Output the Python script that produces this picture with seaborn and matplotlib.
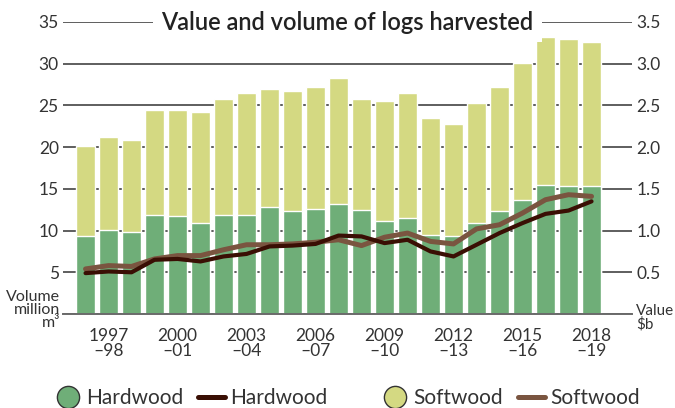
import numpy as np
import pandas as pd
import seaborn as sns
import matplotlib.pyplot as plt
from matplotlib.lines import Line2D

# Data
seasons = ["1996-97", "1997-98", "1998-99", "1999-00", "2000-01", "2001-02",
           "2002-03", "2003-04", "2004-05", "2005-06", "2006-07", "2007-08",
           "2008-09", "2009-10", "2010-11", "2011-12", "2012-13", "2013-14",
           "2014-15", "2015-16", "2016-17", "2017-18", "2018-19"]
hard_vol = [9.4, 10.1, 9.8, 11.9, 11.8, 10.9, 11.9, 11.9, 12.8, 12.4, 12.6, 13.2,
            12.5, 11.2, 11.5, 9.5, 9.3, 10.9, 12.4, 13.7, 15.5, 15.4, 15.4]
soft_vol = [10.7, 11.1, 11.1, 12.6, 12.7, 13.3, 13.9, 14.6, 14.2, 14.3, 14.6, 15.1,
            13.3, 14.3, 15.0, 14.0, 13.5, 14.4, 14.8, 16.4, 17.7, 17.6, 17.2]
hard_val = [0.49, 0.51, 0.50, 0.65, 0.66, 0.63, 0.69, 0.72, 0.81, 0.82, 0.84, 0.94,
            0.93, 0.85, 0.89, 0.75, 0.69, 0.83, 0.97, 1.09, 1.20, 1.24, 1.35]
soft_val = [0.54, 0.58, 0.57, 0.66, 0.70, 0.70, 0.77, 0.83, 0.83, 0.84, 0.86, 0.89,
            0.82, 0.92, 0.97, 0.87, 0.84, 1.02, 1.07, 1.21, 1.37, 1.43, 1.41]
tick_pos = [1, 4, 7, 10, 13, 16, 19, 22]
tick_labels = ["1997\n\u201398", "2000\n\u201301", "2003\n\u201304", "2006\n\u201307",
               "2009\n\u201310", "2012\n\u201313", "2015\n\u201316", "2018\n\u201319"]

hard_col = "#6fae78"
soft_col = "#d4d982"
hard_line = "#3a0f04"
soft_line = "#7a5540"
txt = "#333333"

sns.set_style("white")
plt.rcParams["font.family"] = ["Lato", "DejaVu Sans"]

df = pd.DataFrame({"season": seasons, "hard": hard_vol, "soft": soft_vol})
df["total"] = df["hard"] + df["soft"]

fig = plt.figure(figsize=(6.75, 4.08), dpi=100)
ax = fig.add_axes([63 / 675, 1 - 314 / 408, 569 / 675, 292 / 408])

# stacked bars: softwood on top of hardwood
sns.barplot(data=df, x="season", y="total", color=soft_col, saturation=1,
            width=0.83, ax=ax)
sns.barplot(data=df, x="season", y="hard", color=hard_col, saturation=1,
            width=0.83, ax=ax)

ax.set_xlim(-0.98, 23.76)
ax.set_ylim(0, 35)
ax.set_yticks(range(0, 40, 5))
ax.set_yticklabels([""] + [str(v) for v in range(5, 40, 5)])
ax.set_axisbelow(True)
ax.yaxis.grid(True, color="#5e5e5e", lw=1.4)
ax.tick_params(axis="y", length=0, pad=3, labelsize=12.5, labelcolor=txt)
ax.set_xticks(tick_pos)
ax.set_xticklabels(tick_labels, fontsize=12.5, color=txt, linespacing=0.95)
ax.set_xticks(range(len(seasons)), minor=True)
ax.tick_params(axis="x", which="major", length=9, width=1.4, color="#6a6a6a", pad=1)
ax.tick_params(axis="x", which="minor", length=6, width=1.4, color="#6a6a6a")
ax.set_xlabel("")
ax.set_ylabel("")
for s in ["top", "right", "left"]:
    ax.spines[s].set_visible(False)
ax.spines["bottom"].set_color("#6a6a6a")
ax.spines["bottom"].set_linewidth(1.4)

# value lines on the right axis
ax2 = ax.twinx()
x = np.arange(len(seasons))
sns.lineplot(x=x, y=soft_val, color=soft_line, lw=3.6, ax=ax2,
             solid_capstyle="round")
sns.lineplot(x=x, y=hard_val, color=hard_line, lw=3.0, ax=ax2,
             solid_capstyle="round")
ax2.set_ylim(0, 3.5)
ax2.set_yticks(np.arange(0.5, 3.6, 0.5))
ax2.set_yticklabels([f"{v:.1f}" for v in np.arange(0.5, 3.6, 0.5)])
ax2.tick_params(axis="y", length=0, pad=3, labelsize=12.5, labelcolor=txt)
for s in ax2.spines.values():
    s.set_visible(False)

ax.text(0.5, 1.0, "Value and volume of logs harvested", transform=ax.transAxes,
        ha="center", va="center", fontsize=17, fontweight="semibold", color="#222222",
        bbox=dict(facecolor="white", edgecolor="none", pad=6), zorder=10)

fig.text(60 / 675, 1 - 310 / 408, "Volume\nmillion\nm\u00b3", ha="right", va="center",
         fontsize=11.5, color=txt, linespacing=0.95)
fig.text(636 / 675, 1 - 318 / 408, "Value\n$b", ha="left", va="center",
         fontsize=11, color=txt, linespacing=0.95)

# legend: one entry per legend so each sits where it does in the reference
entries = [
    (Line2D([], [], marker="o", ms=16, mfc=hard_col, mec="#333333", ls="none"), "Hardwood", 54),
    (Line2D([], [], color=hard_line, lw=3.6, solid_capstyle="round"), "Hardwood", 198),
    (Line2D([], [], marker="o", ms=16, mfc=soft_col, mec="#333333", ls="none"), "Softwood", 381),
    (Line2D([], [], color=soft_line, lw=3.6, solid_capstyle="round"), "Softwood", 518),
]
for handle, label, x0 in entries:
    fig.legend([handle], [label], loc="center left", bbox_to_anchor=(x0 / 675, 10 / 408),
               frameon=False, fontsize=15, handlelength=1.3, handletextpad=0.25,
               borderpad=0, borderaxespad=0, labelcolor=txt)

fig.savefig("out.png", dpi=100)
